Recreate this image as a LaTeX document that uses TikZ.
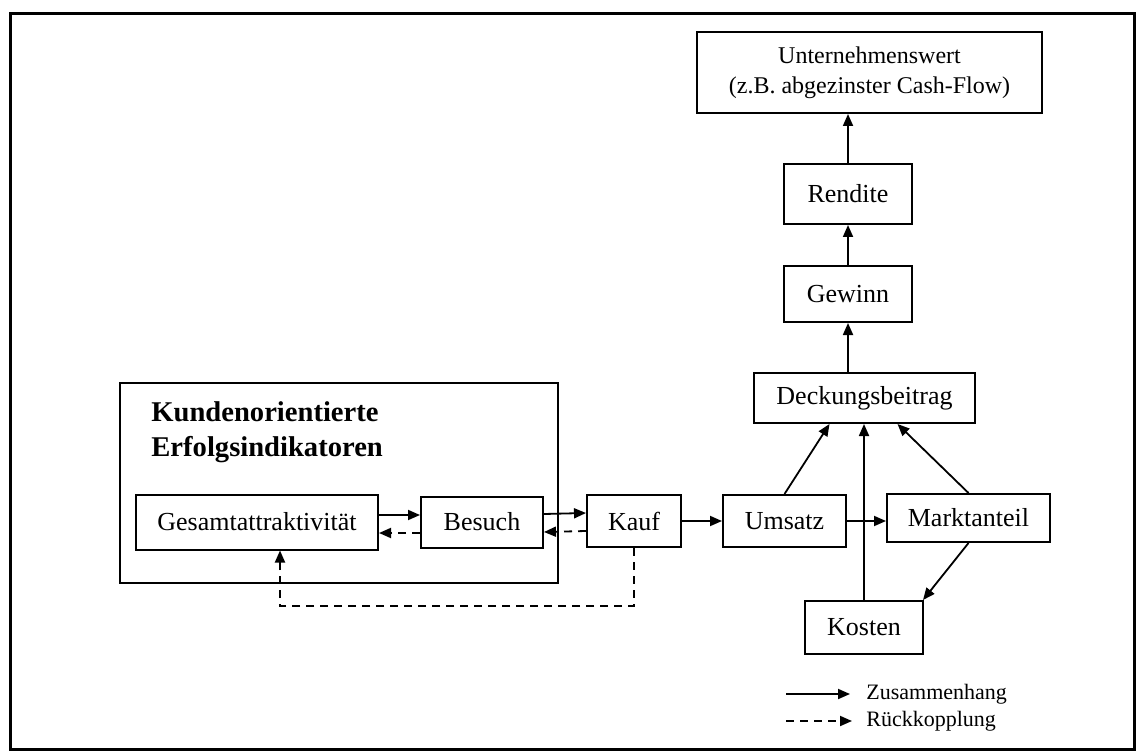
\documentclass[tikz,border=0pt]{standalone}
\usepackage{fontspec}
\setmainfont{Liberation Serif}
\usetikzlibrary{arrows.meta,calc}

\begin{document}
\begin{tikzpicture}[x=0.5pt,y=-0.5pt,
  box/.style={draw, line width=1pt, inner sep=0pt, align=center,
    font=\fontsize{13}{15}\selectfont},
  link/.style={line width=0.9pt, -{Triangle[length=6pt,width=5pt]}},
  feedback/.style={link, dashed, dash pattern=on 4pt off 3pt}]

\useasboundingbox (0,0) rectangle (1138,753);

% outer frame
\node[draw, line width=1.5pt, minimum width=562pt, minimum height=367.5pt, inner sep=0pt] (frame) at (572,381.5) {};

% financial chain
\node[box, minimum width=172.5pt, minimum height=40.5pt, font=\fontsize{12}{15}\selectfont] (unt) at (869.5,72.5)
  {Unternehmenswert\\(z.B. abgezinster Cash-Flow)};
\node[box, minimum width=64pt, minimum height=30pt] (rendite) at (848,194) {Rendite};
\node[box, minimum width=64pt, minimum height=28pt] (gewinn) at (848,294) {Gewinn};
\node[box, minimum width=110.5pt, minimum height=25pt] (deck) at (864.5,398) {Deckungsbeitrag};

% customer-oriented indicators
\node[draw, line width=1pt, minimum width=219pt, minimum height=100pt, inner sep=0pt] (group) at (339,483) {};
\node[anchor=north west, align=left, inner sep=0pt,
  font=\fontsize{14.3}{17.5}\selectfont\bfseries] (title) at (151,401)
  {Kundenorientierte\\Erfolgsindikatoren};

\node[box, minimum width=121pt, minimum height=27.5pt] (gesamt) at (257,522) {Gesamtattraktivität};
\node[box, minimum width=61pt, minimum height=25.5pt] (besuch) at (482,522) {Besuch};
\node[box, minimum width=47pt, minimum height=26pt] (kauf) at (634,521) {Kauf};
\node[box, minimum width=61.5pt, minimum height=26pt] (umsatz) at (784.5,521) {Umsatz};
\node[box, minimum width=81.5pt, minimum height=24pt] (markt) at (968.5,518) {Marktanteil};
\node[box, minimum width=59pt, minimum height=26.5pt] (kosten) at (864,627.5) {Kosten};

% upward chain
\draw[link] (rendite.north) -- (rendite.north |- unt.south);
\draw[link] (gewinn.north) -- (rendite.south);
\draw[link] (gewinn.south |- deck.north) -- (gewinn.south);
\draw[link] (umsatz.north) -- ($(deck.south)+(-35,0)$);
\draw[link] (kosten.north) -- (kosten.north |- deck.south);
\draw[link] (markt.north) -- ($(deck.south)+(33,0)$);
\draw[link] (markt.south) -- ($(kosten.north east)+(-1,0)$);

% horizontal flow
\draw[link] ($(gesamt.east)+(0,-7)$) -- ($(besuch.west)+(0,-7)$);
\draw[feedback] ($(besuch.west)+(0,11)$) -- ($(gesamt.east)+(0,11)$);
\draw[link] ($(besuch.east)+(0,-8)$) -- ($(kauf.west)+(0,-8)$);
\draw[feedback] ($(kauf.west)+(0,10)$) -- ($(besuch.east)+(0,10)$);
\draw[link] (kauf.east) -- (umsatz.west);
\draw[link] (umsatz.east) -- (markt.west |- umsatz.east);

% feedback from purchase to overall attractiveness
\coordinate (fb) at ($(kauf.south)+(0,58)$);
\draw[feedback] (kauf.south) -- (fb) -| ($(gesamt.south)+(23,0)$);

% legend
\coordinate (l1) at (786,694);
\coordinate (l2) at (786,721);
\node[anchor=west, inner sep=0pt, font=\fontsize{11}{12}\selectfont] (t1) at (866,694) {Zusammenhang};
\node[anchor=west, inner sep=0pt, font=\fontsize{11}{12}\selectfont] (t2) at (866,721) {Rückkopplung};
\draw[link] (l1) -- ($(t1.west)+(-16,0)$);
\draw[feedback] (l2) -- ($(t2.west)+(-14,0)$);
\end{tikzpicture}
\end{document}
